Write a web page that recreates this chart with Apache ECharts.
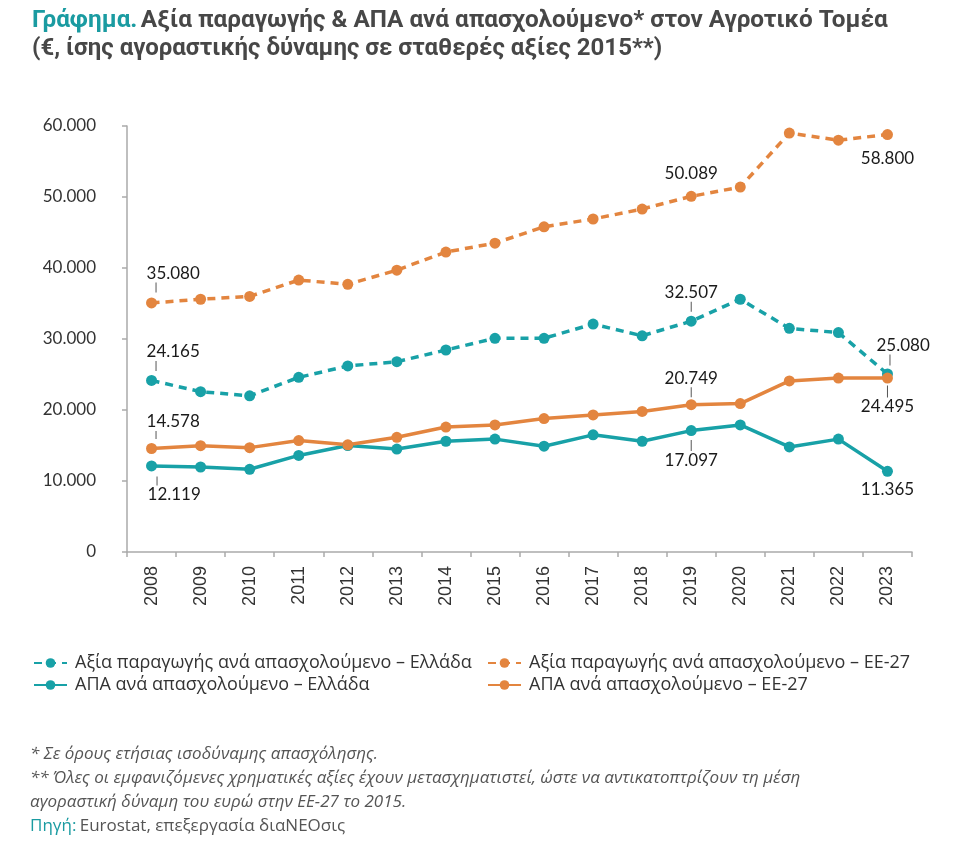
<!DOCTYPE html>
<html>
<head>
<meta charset="utf-8">
<script src="https://cdn.jsdelivr.net/npm/echarts@6/dist/echarts.min.js"></script>
<style>
html,body{margin:0;padding:0;background:#fff;}
#chart{width:971px;height:844px;}
</style>
</head>
<body>
<div id="chart"></div>
<script>
// ---- data ----
const years = ['2008','2009','2010','2011','2012','2013','2014','2015','2016','2017','2018','2019','2020','2021','2022','2023'];
const grProd = [24165, 22580, 22000, 24600, 26200, 26800, 28450, 30100, 30100, 32100, 30450, 32507, 35600, 31500, 30900, 25080];
const euProd = [35080, 35600, 36000, 38300, 37700, 39700, 42250, 43500, 45800, 46900, 48300, 50089, 51400, 59000, 58000, 58800];
const grGva  = [12119, 11970, 11650, 13600, 15000, 14500, 15600, 15900, 14900, 16500, 15600, 17097, 17900, 14800, 15900, 11365];
const euGva  = [14578, 14970, 14700, 15700, 15100, 16150, 17600, 17900, 18800, 19300, 19800, 20749, 20900, 24100, 24500, 24495];
const seriesNames = [
  'Αξία παραγωγής ανά απασχολούμενο – Ελλάδα',
  'Αξία παραγωγής ανά απασχολούμενο – ΕΕ-27',
  'ΑΠΑ ανά απασχολούμενο – Ελλάδα',
  'ΑΠΑ ανά απασχολούμενο – ΕΕ-27'
];
const yTicks = [0, 10000, 20000, 30000, 40000, 50000, 60000];

// ---- styles ----
const TEAL = '#18A1A7';
const ORANGE = '#E3853F';
const fmt = v => String(v).replace(/\B(?=(\d{3})+(?!\d))/g, '.');

// label placement: index -> {pos, dist, dx, align, len (leader length, 0 = none), sp (leader offset for left align)}
const labelCfg = {
  grProd: {
    0:  {pos: 'top', dist: 4, dx: -5, align: 'left', len: 10, sp: 9},
    11: {pos: 'top', dist: 4, dx: 0, align: 'center', len: 10},
    15: {pos: 'top', dist: 3, dx: -11, align: 'left', len: 11, sp: 13}
  },
  euProd: {
    0:  {pos: 'top', dist: 5, dx: -5, align: 'left', len: 10, sp: 9},
    11: {pos: 'top', dist: 8, dx: 0, align: 'center', len: 0},
    15: {pos: 'bottom', dist: 9, dx: 0, align: 'center', len: 0}
  },
  grGva: {
    0:  {pos: 'bottom', dist: 5, dx: -4, align: 'left', len: 9, sp: 9},
    11: {pos: 'bottom', dist: 4, dx: 0, align: 'center', len: 11},
    15: {pos: 'bottom', dist: 4, dx: 0, align: 'center', len: 0}
  },
  euGva: {
    0:  {pos: 'top', dist: 4, dx: -5, align: 'left', len: 8, sp: 9},
    11: {pos: 'top', dist: 2, dx: 0, align: 'center', len: 10},
    15: {pos: 'bottom', dist: 2, dx: 0, align: 'center', len: 12}
  }
};

function buildData(arr, key) {
  return arr.map((v, i) => {
    const c = labelCfg[key][i];
    if (!c) return v;
    const txt = '{v|' + fmt(v) + '}';
    let lead = '';
    if (c.len > 0) lead = (c.align === 'left' ? '{s|}' : '') + '{l|}';
    let f = txt;
    if (lead) f = c.pos === 'top' ? txt + '\n' + lead : lead + '\n' + txt;
    return {
      value: v,
      label: {
        show: true, position: c.pos, distance: c.dist, offset: [c.dx, 0], align: c.align,
        formatter: f,
        rich: {
          v: {fontSize: 17, lineHeight: 18, color: '#1a1a1a', fontFamily: 'Lato'},
          s: {width: c.sp || 0, height: c.len, lineHeight: c.len},
          l: {width: 1, height: c.len, lineHeight: c.len, backgroundColor: '#555'}
        }
      }
    };
  });
}

function mkSeries(name, arr, key, color, dashed) {
  return {
    name: name,
    type: 'line',
    data: buildData(arr, key),
    symbol: 'circle',
    symbolSize: 11,
    showAllSymbol: true,
    lineStyle: {color: color, width: 3.5, type: dashed ? [8, 6] : 'solid'},
    itemStyle: {color: color},
    label: {show: false},
    emphasis: {disabled: true},
    animation: false
  };
}

const chart = echarts.init(document.getElementById('chart'), null, {renderer: 'canvas'});
const legendText = {fontSize: 18, color: '#333', fontFamily: 'Open Sans', padding: [0, 0, 0, 3]};
const noteStyle = {fontSize: 17, fontStyle: 'italic', fill: '#555', fontFamily: 'Open Sans'};
const option = {
  backgroundColor: '#fff',
  animation: false,
  graphic: [
    {type: 'text', left: 32, top: 9, style: {
      text: '{a|Γράφημα.} {b|Αξία παραγωγής & ΑΠΑ ανά απασχολούμενο* στον Αγροτικό Τομέα}',
      rich: {
        a: {fontSize: 24.3, fontWeight: 'bold', fill: '#1A9BA1', fontFamily: 'Roboto'},
        b: {fontSize: 24.3, fontWeight: 'bold', fill: '#474747', fontFamily: 'Roboto'}
      }}},
    {type: 'text', left: 32, top: 37, style: {
      text: '(€, ίσης αγοραστικής δύναμης σε σταθερές αξίες 2015**)',
      fontSize: 24, fontWeight: 'bold', fill: '#474747', fontFamily: 'Roboto'}},
    {type: 'text', left: 30, top: 746, style: Object.assign({text: '* Σε όρους ετήσιας ισοδύναμης απασχόλησης.'}, noteStyle)},
    {type: 'text', left: 30, top: 770, style: Object.assign({text: '** Όλες οι εμφανιζόμενες χρηματικές αξίες έχουν μετασχηματιστεί, ώστε να αντικατοπτρίζουν τη μέση'}, noteStyle)},
    {type: 'text', left: 30, top: 794, style: Object.assign({text: 'αγοραστική δύναμη του ευρώ στην ΕΕ-27 το 2015.'}, noteStyle)},
    {type: 'text', left: 30, top: 818, style: {
      text: '{a|Πηγή:} {b|Eurostat, επεξεργασία διαΝΕΟσις}',
      rich: {
        a: {fontSize: 17, fill: '#1A9BA1', fontFamily: 'Open Sans'},
        b: {fontSize: 17, fill: '#555', fontFamily: 'Open Sans'}
      }}}
  ],
  legend: [
    {left: 28, top: 649, orient: 'vertical', itemGap: 4, itemWidth: 33, itemHeight: 12,
     data: [seriesNames[0], seriesNames[2]], textStyle: legendText, selectedMode: false},
    {left: 482, top: 649, orient: 'vertical', itemGap: 4, itemWidth: 33, itemHeight: 12,
     data: [seriesNames[1], seriesNames[3]], textStyle: legendText, selectedMode: false}
  ],
  grid: {left: 127, right: 59, top: 126, bottom: 292, containLabel: false},
  xAxis: {
    type: 'category',
    data: years,
    boundaryGap: true,
    axisLine: {lineStyle: {color: '#aaa', width: 1.5}},
    axisTick: {show: true, length: 5, lineStyle: {color: '#aaa', width: 1.5}},
    axisLabel: {rotate: 90, fontSize: 18, color: '#333', fontFamily: 'Liberation Sans', margin: 14}
  },
  yAxis: {
    type: 'value',
    min: 0, max: 60000, interval: 10000,
    splitLine: {show: false},
    axisLine: {show: true, lineStyle: {color: '#aaa', width: 1.5}},
    axisTick: {show: true, length: 5, lineStyle: {color: '#aaa', width: 1.5}},
    axisLabel: {fontSize: 17, color: '#333', fontFamily: 'Lato', margin: 31,
      formatter: v => yTicks.indexOf(v) >= 0 ? fmt(v) : ''}
  },
  series: [
    mkSeries(seriesNames[0], grProd, 'grProd', TEAL, true),
    mkSeries(seriesNames[1], euProd, 'euProd', ORANGE, true),
    mkSeries(seriesNames[2], grGva, 'grGva', TEAL, false),
    mkSeries(seriesNames[3], euGva, 'euGva', ORANGE, false)
  ]
};
chart.setOption(option);
</script>
</body>
</html>
